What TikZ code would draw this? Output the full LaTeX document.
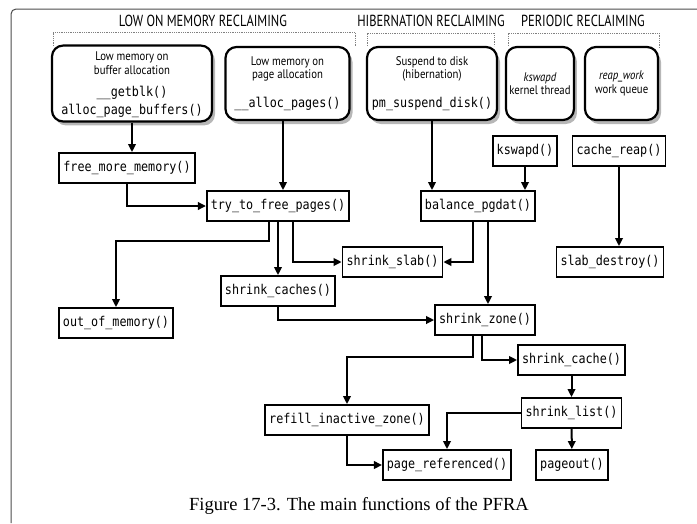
\documentclass[tikz,border=0pt]{standalone}
\usepackage{fontspec}
\setmainfont{Liberation Serif}
\newfontfamily\headfont[FakeStretch=0.78]{PT Sans}
\newfontfamily\notefont[FakeStretch=0.86]{PT Sans}
\newfontfamily\codefont[FakeStretch=0.87]{DejaVu Sans Mono}
\usetikzlibrary{arrows.meta,shadows}

\newcommand{\pfnote}{\notefont\fontsize{12.5}{13.5}\selectfont}
\newcommand{\pfcode}{\codefont\fontsize{13.5}{16}\selectfont}

\begin{document}
\begin{tikzpicture}[x=1pt,y=-1pt,line width=2pt,>={Triangle[length=8pt,width=7.5pt]}]
\tikzstyle{func}=[draw,line width=1.8pt,font=\pfcode,inner xsep=4pt,minimum height=30pt]
\tikzstyle{event}=[draw,line width=2.2pt,rounded corners=11pt,align=center,minimum height=73pt,fill=white,
  font=\pfnote,drop shadow={shadow xshift=3pt,shadow yshift=-4pt,fill=black!40,opacity=0.7}]
\tikzstyle{group}=[font=\headfont\fontsize{16}{16}\selectfont]
\tikzstyle{bracket}=[gray,line width=0.8pt,densely dotted]
\useasboundingbox (0,0) rectangle (697,523);

% frame and group headings
\draw[gray!60!black,line width=1pt,rounded corners=5pt] (11,523) -- (11,9) -- (697,9);
\node[group] (lowhead) at (203,21) {LOW ON MEMORY RECLAIMING};
\node[group] (hibhead) at (431,21) {HIBERNATION RECLAIMING};
\node[group] (perhead) at (583,21) {PERIODIC RECLAIMING};
\draw[bracket] (53,46) -- (53,32) -- (355,32) -- (355,46);
\draw[bracket] (367,46) -- (367,33) -- (494,33) -- (494,46);
\draw[bracket] (508,46) -- (508,33) -- (659,33) -- (659,48);

% events
\node[event,minimum width=160pt] (lowbuf) at (132,83.5)
  {\pfnote\rule{0pt}{12pt}Low memory on\\\pfnote buffer allocation\\[9pt]\pfcode\_\_getblk()\\[3.5pt]\pfcode alloc\_page\_buffers()};
\node[event,minimum width=124pt] (lowpage) at (287.5,83.5)
  {\pfnote Low memory on\\\pfnote page allocation\\[15pt]\pfcode\_\_alloc\_pages()};
\node[event,minimum width=130pt] (suspend) at (432,83.5)
  {\pfnote Suspend to disk\\\pfnote (hibernation)\\[15pt]\pfcode pm\_suspend\_disk()};
\node[event,minimum width=66pt] (kthread) at (540,83.5) {\pfnote\itshape kswapd\\\pfnote kernel thread};
\node[event,minimum width=73pt] (wqueue) at (621.5,83.5) {\pfnote\itshape reap\_work\\\pfnote work queue};

% functions
\node[func] (fmm) at (127,168) {free\_more\_memory()};
\node[func] (tfp) at (278,206) {try\_to\_free\_pages()};
\node[func] (shc) at (278,291) {shrink\_caches()};
\node[func] (oom) at (116,323) {out\_of\_memory()};
\node[func] (ssl) at (392.5,262) {shrink\_slab()};
\node[func] (ksw) at (525,151) {kswapd()};
\node[func] (crp) at (619,151) {cache\_reap()};
\node[func] (bpg) at (478,206) {balance\_pgdat()};
\node[func] (sld) at (610,262) {slab\_destroy()};
\node[func] (shz) at (485,320) {shrink\_zone()};
\node[func] (shch) at (571.5,360) {shrink\_cache()};
\node[func] (shl) at (571.5,413) {shrink\_list()};
\node[func] (rfz) at (347,420) {refill\_inactive\_zone()};
\node[func] (prf) at (447,465) {page\_referenced()};
\node[func] (pgo) at (572,465) {pageout()};

% calls
\draw[->] (lowbuf) -- (lowbuf |- fmm.north);
\draw[->] ([xshift=-4.5pt]lowpage.south) -- ([xshift=-4.5pt]lowpage.south |- tfp.north);
\draw[->] (suspend) -- (suspend |- bpg.north);
\draw[->] (ksw) -- (ksw |- bpg.north);
\draw[->] (crp) -- (crp |- sld.north);
\draw[->] (fmm) |- (tfp);
\draw[->] ([xshift=-9pt]tfp.south) -- ++(0,19) -| (oom.north);
\draw[->] (shc |- tfp.south) -- (shc.north);
\draw[->] ([xshift=15pt]tfp.south) |- (ssl);
\draw[->] ([xshift=-5pt]bpg.south) |- (ssl);
\draw[->] ([xshift=10pt]bpg.south) -- ([xshift=10pt]bpg.south |- shz.north);
\draw[->] (shc) |- (shz);
\draw[->] ([xshift=-12pt]shz.south) -- ++(0,21) -| (rfz.north);
\draw[->] ([xshift=-3pt]shz.south) |- (shch);
\draw[->] (shch) -- (shl);
\draw[->] (shl) -| (prf);
\draw[->] (shl) -- (pgo);
\draw[->] (rfz) |- (prf);

\node[font=\fontsize{18.5}{20}\selectfont] (caption) at (359,506) {Figure 17-3. The main functions of the PFRA};
\end{tikzpicture}
\end{document}
